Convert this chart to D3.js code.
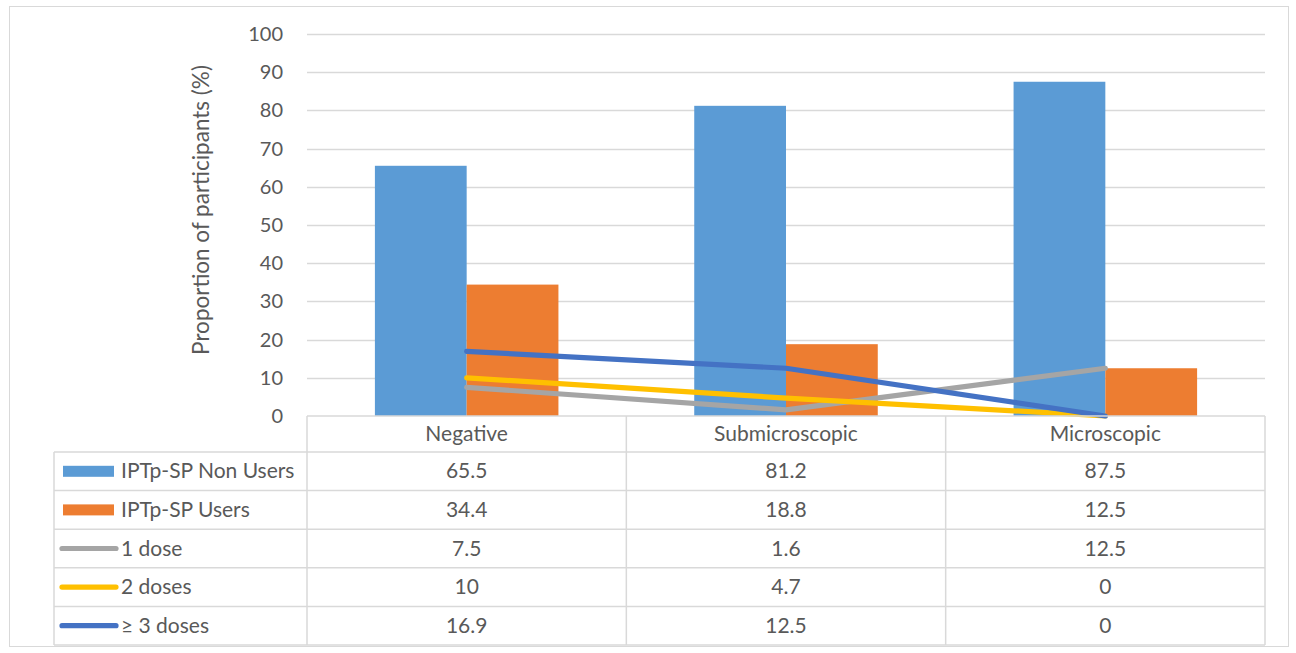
<!DOCTYPE html>
<html>
<head>
<meta charset="utf-8">
<script src="https://cdn.jsdelivr.net/npm/d3@7/dist/d3.min.js"></script>
<style>
  html, body { margin: 0; padding: 0; background: #fff; }
  svg text { font-family: Lato, "Open Sans", sans-serif; }
</style>
</head>
<body>
<svg id="chart" width="1296" height="653"></svg>
<script>
// Infection status groups and series (percent of participants)
const categories = ["Negative", "Submicroscopic", "Microscopic"];
const nonUsers = [65.5, 81.2, 87.5];
const users = [34.4, 18.8, 12.5];
const oneDose = [7.5, 1.6, 12.5];
const twoDoses = [10, 4.7, 0];
const threePlusDoses = [16.9, 12.5, 0];
const yTicks = [0, 10, 20, 30, 40, 50, 60, 70, 80, 90, 100];

const barSeries = [
  { name: "IPTp-SP Non Users", values: nonUsers, color: "#5B9BD5" },
  { name: "IPTp-SP Users", values: users, color: "#ED7D31" }
];
const lineSeries = [
  { name: "1 dose", values: oneDose, color: "#A5A5A5" },
  { name: "2 doses", values: twoDoses, color: "#FFC000" },
  { name: "\u2265 3 doses", values: threePlusDoses, color: "#4472C4" }
];
const allSeries = [...barSeries, ...lineSeries];

const svg = d3.select("#chart");
const plot = { left: 307, right: 1265, top: 34, bottom: 416 };
const tableLeft = 54;
const headerBottom = 452;
const rowH = 38.6;
const gridColor = "#D9D9D9";
const textColor = "#595959";
const tableFont = "21px";
const lineWidth = 5.2;

// outer frame
svg.append("rect").attr("x", 9.5).attr("y", 6.5).attr("width", 1279).attr("height", 640)
  .attr("fill", "none").attr("stroke", gridColor).attr("stroke-width", 1);

const x = d3.scaleBand().domain(categories).range([plot.left, plot.right]);
const inner = d3.scaleBand().domain(barSeries.map(s => s.name))
  .range([0, x.bandwidth()]).paddingInner(0).paddingOuter(0.74);
const y = d3.scaleLinear().domain([0, 100]).range([plot.bottom, plot.top]);

// horizontal gridlines
svg.append("g").selectAll("line").data(yTicks.filter(t => t > 0)).join("line")
  .attr("x1", plot.left).attr("x2", plot.right)
  .attr("y1", d => Math.round(y(d)) + 0.5).attr("y2", d => Math.round(y(d)) + 0.5)
  .attr("stroke", gridColor).attr("stroke-width", 1.5);

// y axis labels
const yAxis = d3.axisLeft(y).tickValues(yTicks).tickSize(0).tickPadding(24);
const gy = svg.append("g").attr("transform", `translate(${plot.left},0)`).call(yAxis);
gy.select(".domain").remove();
gy.selectAll("text").attr("fill", textColor).style("font-size", "20px")
  .style("font-family", "Lato, sans-serif");

// y axis title
svg.append("text")
  .attr("transform", "translate(209,210) rotate(-90)")
  .attr("text-anchor", "middle").attr("fill", textColor).style("font-size", "22.5px")
  .text("Proportion of participants (%)");

// bars
barSeries.forEach(s => {
  svg.append("g").selectAll("rect").data(categories).join("rect")
    .attr("x", c => x(c) + inner(s.name))
    .attr("width", inner.bandwidth())
    .attr("y", (c, i) => y(s.values[i]))
    .attr("height", (c, i) => y(0) - y(s.values[i]))
    .attr("fill", s.color);
});

// dose lines at category centres
const line = d3.line().x((d, i) => x(categories[i]) + x.bandwidth() / 2).y(d => y(d));
lineSeries.forEach(s => {
  svg.append("path").datum(s.values).attr("d", line)
    .attr("fill", "none").attr("stroke", s.color).attr("stroke-width", lineWidth)
    .attr("stroke-linecap", "round").attr("stroke-linejoin", "round");
});

// data table
const tg = svg.append("g");
const tableBottom = headerBottom + rowH * allSeries.length;
const hl = (x1, x2, yy) => tg.append("line").attr("x1", x1).attr("x2", x2)
  .attr("y1", yy).attr("y2", yy).attr("stroke", gridColor).attr("stroke-width", 1.5);
const vl = (xx, y1, y2) => tg.append("line").attr("x1", xx).attr("x2", xx)
  .attr("y1", y1).attr("y2", y2).attr("stroke", gridColor).attr("stroke-width", 1.5);

hl(plot.left, plot.right, plot.bottom);
for (let r = 0; r <= allSeries.length; r++) hl(tableLeft, plot.right, headerBottom + r * rowH);
vl(tableLeft, headerBottom, tableBottom);
categories.forEach(c => vl(x(c), plot.bottom, tableBottom));
vl(plot.right, plot.bottom, tableBottom);

// header labels
tg.selectAll("text.hdr").data(categories).join("text")
  .attr("x", c => x(c) + x.bandwidth() / 2).attr("y", (plot.bottom + headerBottom) / 2 + 7)
  .attr("text-anchor", "middle").attr("fill", textColor).style("font-size", tableFont)
  .text(c => c);

allSeries.forEach((s, r) => {
  const cy = headerBottom + r * rowH + rowH / 2;
  if (r < barSeries.length) {
    tg.append("rect").attr("x", 63).attr("y", cy - 5.5).attr("width", 51).attr("height", 11)
      .attr("fill", s.color);
  } else {
    tg.append("line").attr("x1", 62).attr("x2", 116).attr("y1", cy).attr("y2", cy)
      .attr("stroke", s.color).attr("stroke-width", lineWidth).attr("stroke-linecap", "round");
  }
  tg.append("text").attr("x", 121).attr("y", cy + 7).attr("fill", textColor)
    .style("font-size", tableFont).text(s.name);
  s.values.forEach((v, i) => {
    tg.append("text").attr("x", x(categories[i]) + x.bandwidth() / 2).attr("y", cy + 7)
      .attr("text-anchor", "middle").attr("fill", textColor).style("font-size", tableFont)
      .text(v);
  });
});
</script>
</body>
</html>
